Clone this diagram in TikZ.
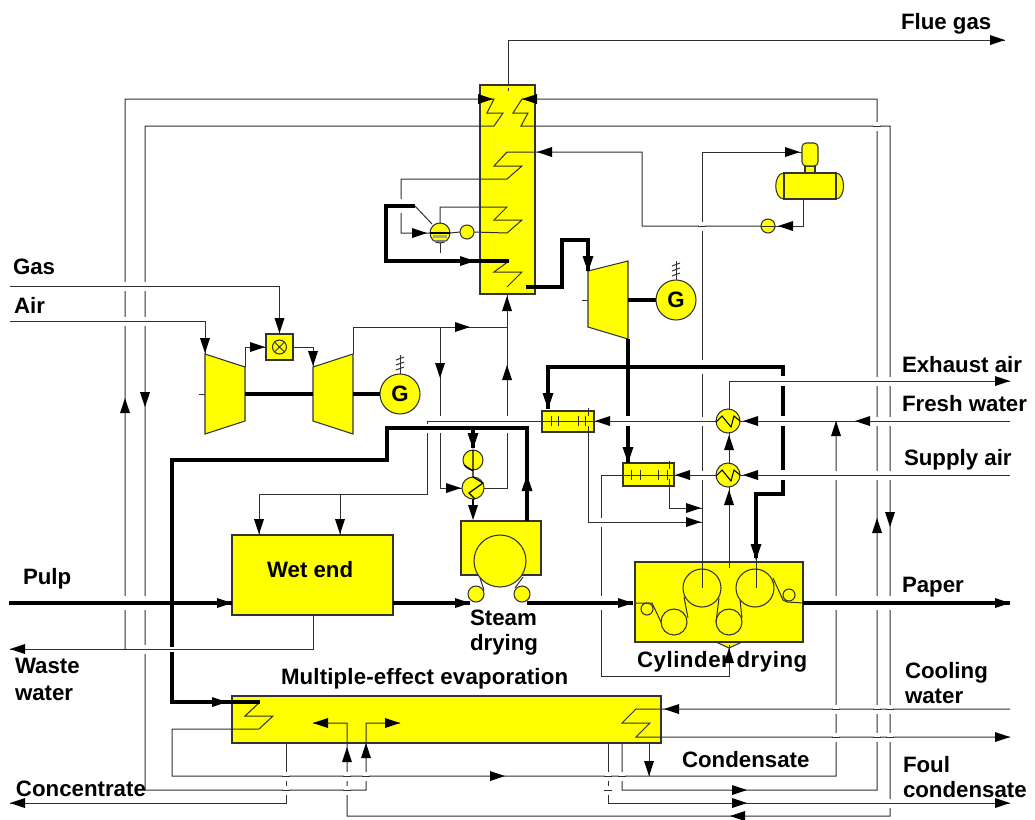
\documentclass[tikz,border=0pt]{standalone}
\usepackage{fontspec}
\setmainfont{Liberation Sans}
\definecolor{outl}{HTML}{333333}
\definecolor{wire}{HTML}{303030}
\definecolor{equip}{HTML}{FFFF00}
\tikzset{
  x=0.75pt,y=-0.75pt,
  wirethin/.style={draw=wire,line width=0.75pt,line join=miter},
  wirethick/.style={draw=black,line width=3pt,line join=miter},
  wiremid/.style={draw=black,line width=1.6pt},
  rbox/.style 2 args={rectangle,draw=outl,fill=equip,line width=0.8pt,minimum width=#1*0.75pt,minimum height=#2*0.75pt,inner sep=0pt,outer sep=0pt},
  disc/.style={circle,draw=outl,fill=equip,line width=0.8pt,minimum size=#1*0.75pt,inner sep=0pt,outer sep=0pt},
  equipshape/.style={draw=outl,fill=equip,line width=0.8pt,line join=miter},
  lbl/.style={anchor=base west,inner sep=0pt,outer sep=0pt,font=\fontsize{16.7pt}{18pt}\selectfont\bfseries},
}
% arrowhead: tip at (x,y), pointing along angle
\newcommand{\ahead}[3]{\fill[black,shift={(#1,#2)},rotate=#3] (0,0)--(-15,-5)--(-15,5)--cycle;}
\newcommand{\aheadT}[3]{\fill[black,shift={(#1,#2)},rotate=#3] (0,0)--(-16,-5.5)--(-16,5.5)--cycle;}
% crossing: vertical line broken, horizontal carried through
\newcommand{\xthin}[2]{\fill[white] (#1-3,#2-4.5) rectangle (#1+3,#2+4.5);\draw[wirethin] (#1-4,#2)--(#1+4,#2);}
\newcommand{\xthick}[2]{\fill[white] (#1-3,#2-7) rectangle (#1+3,#2+7);\draw[wirethick] (#1-4,#2)--(#1+4,#2);}
\newcommand{\xfat}[2]{\fill[white] (#1-4,#2-5) rectangle (#1+4,#2+5);\draw[wirethin] (#1-5,#2)--(#1+5,#2);}
\begin{document}
\begin{tikzpicture}
\useasboundingbox (0,0) rectangle (1035,819);
\fill[white] (0,0) rectangle (1035,819);

% ---------- equipment ----------
\node[rbox={55}{209}] (column) at (507.5,189.5) {};
\node[rbox={161}{80}] (wet) at (312.5,575) {};
\node[rbox={80}{54}] (steam) at (501,548) {};
\node[disc=52] (yankee) at (500,561) {};
\node[disc=16] (rollL) at (476,594) {};
\node[disc=16] (rollR) at (522,594) {};
\fill[equip,draw=outl,line width=0.8pt] (716,642)--(729,648)--(742,642);
\node[rbox={168}{80}] (cyl) at (719,602) {};
\node[rbox={429}{47}] (evap) at (446.5,719.5) {};
\node[rbox={27}{26}] (comb) at (279.5,347) {};
\node[disc=14] (combc) at (279.5,347) {};
\draw[wirethin] (combc.north west)--(combc.south east) (combc.north east)--(combc.south west);
\node[rbox={52}{21}] (hx1) at (568,421.5) {};
\node[rbox={51}{23}] (hx2) at (648.5,474.5) {};
\foreach \t in {551,558,578,585} \draw[wirethin] (\t,416)--(\t,426);
\foreach \t in {631,640,658,667} \draw[wirethin] (\t,470)--(\t,480);

% turbines
\path[equipshape] (205,354)--(245,367)--(245,421)--(205,434)--cycle;
\path[equipshape] (313,367)--(353,354)--(353,434)--(313,421)--cycle;
\path[equipshape] (588,271)--(628,261)--(628,339)--(588,327)--cycle;
\coordinate (tA) at (245,394); \coordinate (tBl) at (313,394); \coordinate (tBr) at (353,394);
\coordinate (tC) at (628,300);
\draw[wirethin] (199,394)--(205,394) (582,300)--(588,300);
\node[disc=40,font=\fontsize{16.7pt}{16pt}\selectfont\bfseries] (genA) at (400,394) {G};
\node[disc=40,font=\fontsize{16.7pt}{16pt}\selectfont\bfseries] (genB) at (676,300) {G};
\foreach \g/\gx/\gy in {genA/400/374,genB/676/280}{
  \draw[wirethin] (\gx,\gy)--(\gx,\gy-19);
  \draw[wirethin] (\gx-4,\gy-4)--(\gx+4,\gy-7) (\gx-4,\gy-9)--(\gx+4,\gy-12) (\gx-4,\gy-14)--(\gx+4,\gy-17);
}
% tank and motor
\path[equipshape] (784,173) .. controls (773,173) and (773,199) .. (784,199)--cycle;
\path[equipshape] (836,173) .. controls (846,173) and (846,199) .. (836,199)--cycle;
\node[rbox={52}{26}] (tank) at (810,186) {};
\node[rbox={10}{7}] (neck) at (810,169.5) {};
\path[equipshape,rounded corners=3pt] (802,166)--(802,143)--(818,143)--(818,166)--cycle;
\coordinate (motorW) at (802,152);
% drum + pumps
\node[disc=20] (drum) at (440,233) {};
\fill[gray!70] (433,235) rectangle (447,238);
\fill[gray] (434,240) rectangle (446,242);
\draw[black,line width=0.9pt] (430,233)--(450,233);
\node[disc=14] (pumpD) at (467,232) {};
\node[disc=14] (pumpT) at (768,226) {};
\draw[wirethin] (761,226)--(775,226);
\node[disc=20] (pumpS) at (473,460) {};
\node[disc=22] (exS) at (473,488) {};
\node[disc=24] (ex1) at (728,421) {};
\node[disc=24] (ex2) at (728,475) {};
\draw[black,line width=0.9pt] (473,450)--(473,477) (464,465)--(473,471);
\draw[black,line width=0.9pt] (473,477)--(483,483)--(469,493)--(475,499);
\foreach \yy in {421,475}
  \draw[black,line width=0.8pt] (716,\yy+1)--(722,\yy-5)--(731,\yy+6)--(734,\yy-5)--(740,\yy);
% cylinders
\node[disc=38] (c1) at (702,588) {};
\node[disc=38] (c2) at (755,588) {};
\node[disc=26] (c3) at (674,622) {};
\node[disc=26] (c4) at (729,622) {};
\node[disc=12] (c5) at (647,609) {};
\node[disc=12] (c6) at (789,595) {};
\draw[wirethin] (635,603)--(652,603)--(661,622);
\draw[wirethin] (684,597)--(688,618) (719,598)--(716,622) (740,600)--(742,618) (773,578)--(783,600)--(787,602)--(803,603);
\draw[wirethin] (480,578)--(484,590) (523,577)--(515,588);

% ---------- free ends ----------
\coordinate (flue) at (1005,40);
\coordinate (gasin) at (10,286); \coordinate (airin) at (10,321);
\coordinate (pulpin) at (9,603); \coordinate (paperout) at (1010,603);
\coordinate (wasteout) at (10,649); \coordinate (concout) at (10,803);
\coordinate (exhout) at (1010,381); \coordinate (fresh) at (1010,421); \coordinate (supply) at (1010,475);
\coordinate (coolin) at (1010,709); \coordinate (coolout) at (1010,737); \coordinate (foulout) at (1010,803);

% ---------- thin connectors ----------
\draw[wirethin] (508,85)--(508,40)--(flue);
\draw[wirethin] (508,88)--(508,91);
\draw[wirethin] (wet.south -| 313,615)--(313,649)--(wasteout);
\draw[wirethin] (125,649)--(125,99)--(494,99)--(487,113)--(503,113)--(494,126)--(145,126)--(145,790)--(366,790)--(366,723)--(400,723);
\draw[wirethin] (622,743)--(622,790)--(877,790)--(877,99)--(522,99)--(513,113)--(528,113)--(521,126)--(890,126)--(890,816)--(347,816)--(347,723)--(313,723);
\draw[wirethin] (286,743)--(286,803)--(concout);
\draw[wirethin] (608,743)--(608,803)--(foulout);
\draw[wirethin] (649,743)--(649,776);
\draw[wirethin] (260,702)--(245,716)--(273,716)--(259,729)--(172,729)--(172,776)--(836,776)--(836,421);
\draw[wirethin] (coolin)--(636,709)--(622,723)--(650,723)--(636,737)--(coolout);
% air side
\draw[wirethin] (gasin)--(279.5,286)--(comb.north);
\draw[wirethin] (airin)--(205,321)--(205,354);
\draw[wirethin] (245,367)--(245,347)--(comb.west);
\draw[wirethin] (comb.east)--(313,347)--(313,367);
\draw[wirethin] (353,354)--(353,327)--(507,327);
\draw[wirethin] (440,327)--(440,488)--(exS.west);
\draw[wirethin] (column.south -| 507,294)--(507,488)--(exS.east);
% water / air trains
\draw[wirethin] (fresh)--(ex1.east);
\draw[wirethin] (ex1.west)--(427,421)--(427,494)--(259,494)--(259,535);
\draw[wirethin] (340,494)--(340,535);
\draw[wirethin] (supply)--(ex2.east);
\draw[wirethin] (ex2.west)--(601,475)--(601,676)--(729,676)--(729,645);
\draw[wirethin] (729,568)--(ex2.south -| 729,487);
\draw[wirethin] (729,463)--(729,433);
\draw[wirethin] (729,409)--(729,381)--(exhout);
\draw[wirethin] (motorW)--(702,152)--(702,588);
\draw[wirethin] (588,408)--(588,416) (588,426)--(588,522)--(702,522);
\draw[wirethin] (669,461)--(669,469) (669,479)--(669,508)--(702,508);
\draw[wirethin] (756,555)--(756,588);
% boiler water
\draw[wirethin] (tank.south -| 803,199)--(803,226)--(pumpT.east);
\draw[wirethin] (pumpT.west)--(642,226)--(642,152)--(507,152)--(494,166)--(522,166)--(507,179)--(401,179)--(401,233)--(drum.west);
\draw[wirethin] (drum.east)--(pumpD.west);
\draw[wirethin] (pumpD.east)--(507,233)--(522,220)--(494,220)--(507,207)--(440,207)--(drum.north);
\draw[wirethin] (drum.south)--(440,253);
\draw[wirethin] (415,206)--(432,224);
\draw[wirethin] (509,261)--(494,272)--(522,272)--(507,287);

% ---------- thick connectors ----------
\draw[wirethick] (tA)--(tBl);
\draw[wirethick] (tBr)--(genA.west);
\draw[wirethick] (tC)--(genB.west);
\draw[wirethick] (415,206)--(386,206)--(386,261)--(509,261);
\draw[wirethick] (526,287)--(562,287)--(562,240)--(588,240)--(588,271);
\draw[wirethick] (628,339)--(628,463);
\draw[wirethick] (548,409)--(548,367)--(783,367)--(783,494)--(756,494)--(756,558);
\draw[wirethick] (527,521)--(527,428)--(387,428)--(387,460)--(172,460)--(172,702)--(260,702);
\draw[wirethick] (473,428)--(473,448);
\draw[wiremid] (473,499)--(473,515);
\draw[wirethick] (pulpin)--(wet.west |- 232,603);
\draw[wirethick] (393,603)--(470,603);
\draw[wirethick] (527,603)--(633,603);
\draw[wirethick] (803,603)--(paperout);

% ---------- crossings ----------
\foreach \xx in {125,145}{\xthin{\xx}{286}\xthin{\xx}{321}\xthick{\xx}{603}}
\xthin{145}{649}
\fill[white] (168,647) rectangle (176,652);\draw[wirethin] (167,649)--(177,649);
\foreach \xx in {286,347}{\xthin{\xx}{776}\xthin{\xx}{790}}
\xthin{366}{776}\xthin{608}{776}\xthin{608}{790}\xthin{622}{776}
\foreach \xx in {836,877,890}{\xthin{\xx}{475}\xthick{\xx}{603}\xthin{\xx}{709}\xthin{\xx}{737}}
\foreach \xx in {877,890}{\xthin{\xx}{381}\xthin{\xx}{421}}
\xthin{877}{126}\xthin{890}{803}
\xthin{702}{226}\xthin{702}{421}\xthin{702}{475}\xthick{702}{367}
\xfat{783}{381}\xfat{783}{421}\xfat{783}{475}\xfat{628}{421}
\foreach \xx in {440,507}{\fill[white] (\xx-3,416) rectangle (\xx+3,433);\draw[wirethin] (\xx-4,421)--(\xx+4,421);\draw[wirethick] (\xx-4,428)--(\xx+4,428);}
\fill[white] (424,424) rectangle (430,433);\draw[wirethick] (422,428)--(432,428);
\xthin{601}{522}\xthick{601}{603}
\xthick{401}{206}

% ---------- arrowheads ----------
\ahead{1005}{40}{0}
\ahead{493}{99}{0}\ahead{522}{99}{180}
\ahead{537}{152}{180}
\ahead{427}{233}{0}
\ahead{507}{296}{90}\ahead{507}{365}{90}
\ahead{470}{327}{0}\ahead{440}{378}{-90}
\ahead{461}{488}{0}
\ahead{279.5}{333}{-90}\ahead{205}{353}{-90}\ahead{265}{347}{0}\ahead{313}{366}{-90}
\ahead{125}{398}{90}\ahead{145}{407}{-90}
\ahead{877}{518}{90}\ahead{890}{527}{-90}
\ahead{747}{790}{0}\ahead{730}{816}{180}\ahead{747}{803}{0}
\ahead{1010}{803}{0}\ahead{1010}{737}{0}
\ahead{664}{709}{180}
\ahead{347}{747}{90}\ahead{366}{743}{90}
\ahead{313}{723}{180}\ahead{400}{723}{0}
\ahead{649}{776}{-90}\ahead{505}{776}{0}
\ahead{10}{649}{180}\ahead{10}{803}{180}
\ahead{855}{421}{180}\ahead{743}{421}{180}\ahead{595}{421}{180}
\ahead{836}{421}{90}
\ahead{259}{534}{-90}\ahead{340}{534}{-90}
\ahead{743}{475}{180}\ahead{675}{475}{180}
\ahead{729}{490}{90}\ahead{729}{435}{90}\ahead{1010}{381}{0}
\ahead{800}{152}{0}\ahead{778}{226}{180}
\ahead{701}{508}{0}\ahead{701}{522}{0}
\ahead{473}{520}{-90}
\aheadT{548}{409}{-90}\aheadT{756}{560}{-90}\aheadT{628}{463}{-90}
\aheadT{588}{272}{-90}\aheadT{527}{475}{90}\aheadT{473}{449}{-90}
\ahead{475}{261}{0}\ahead{227}{702}{0}
\ahead{232}{603}{0}\ahead{470}{603}{0}\ahead{633}{603}{0}\ahead{1010}{603}{0}

% ---------- labels ----------
\node[lbl] (tFlue) at (901,29) {Flue gas};
\node[lbl] (tGas) at (13,274) {Gas};
\node[lbl] (tAir) at (14,313) {Air};
\node[lbl] (tExh) at (902,372) {Exhaust air};
\node[lbl] (tFresh) at (902,411) {Fresh water};
\node[lbl] (tSupply) at (904,465) {Supply air};
\node[lbl] (tPaper) at (902,592) {Paper};
\node[lbl] (tPulp) at (23,584) {Pulp};
\node[lbl] (tWet) at (267,577) {Wet end};
\node[lbl] (tSteam) at (470,625) {Steam};
\node[lbl] (tDry) at (470,650) {drying};
\node[lbl] (tWaste) at (15,673) {Waste};
\node[lbl] (tWater) at (15,700) {water};
\node[lbl] (tCyl) at (637,667) {\addfontfeature{LetterSpace=2.4}Cylinder drying};
\node[lbl] (tMulti) at (281,684) {\addfontfeature{LetterSpace=0.7}Multiple-effect evaporation};
\node[lbl] (tCool) at (905,678) {Cooling};
\node[lbl] (tCoolw) at (905,703) {water};
\node[lbl] (tCond) at (682,767) {Condensate};
\node[lbl] (tFoul) at (903,772) {Foul};
\node[lbl] (tFoulc) at (903,797) {condensate};
\node[lbl] (tConc) at (16,796) {Concentrate};
\ahead{729}{648}{90}
\end{tikzpicture}
\end{document}
